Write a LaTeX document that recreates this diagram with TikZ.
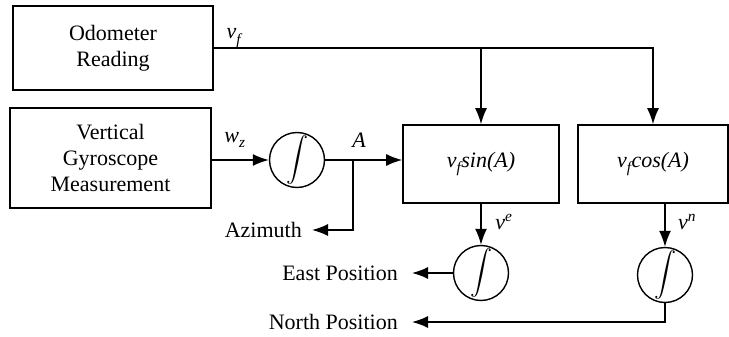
\documentclass[tikz,border=0pt]{standalone}
\usepackage{unicode-math}
\setmainfont{Liberation Serif}
\usepackage{tikz}
\usetikzlibrary{arrows.meta}

\begin{document}
\begin{tikzpicture}[x=1pt, y=-1pt,
    font=\fontsize{22}{26}\selectfont,
    block/.style={draw, line width=1.6pt, minimum width=#1, align=center, inner sep=0pt},
    integ/.style={draw, circle, line width=1.4pt, minimum size=55pt, inner sep=0pt},
    lbl/.style={inner sep=0pt, font=\fontsize{22}{26}\selectfont\itshape},
    arrow/.style={-{Latex[length=16pt, width=12pt]}, line width=1.5pt}
]
    \useasboundingbox (0,0) rectangle (729,337);

    \node[block=200pt, minimum height=84pt] (odo) at (113,48) {Odometer\\Reading};
    \node[block=201pt, minimum height=100pt] (gyro) at (110.5,158) {Vertical\\Gyroscope\\Measurement};
    \node[integ] (intA) at (297,160) {$\displaystyle\int$};
    \node[block=156pt, minimum height=78pt, font=\fontsize{22}{26}\selectfont\itshape] (sinbox) at (481,164) {v\textsubscript{f}sin(A)};
    \node[block=150pt, minimum height=78pt, font=\fontsize{22}{26}\selectfont\itshape] (cosbox) at (653,164) {v\textsubscript{f}cos(A)};
    \node[integ] (intE) at (481,273) {$\displaystyle\int$};
    \node[integ] (intN) at (665,275) {$\displaystyle\int$};

    \node[anchor=east, inner sep=0pt] (azim) at (302,230) {Azimuth};
    \node[anchor=east, inner sep=0pt] (east) at (398,273) {East Position};
    \node[anchor=east, inner sep=0pt] (north) at (398,322) {North Position};

    \coordinate (br) at (353,160);

    \draw[arrow] (odo.east) -| (cosbox.north);
    \draw[arrow] (odo.east -| sinbox.north) -- (sinbox.north);
    \draw[arrow] (gyro.east |- intA.west) -- (intA.west);
    \draw[arrow] (intA.east) -- (intA.east -| sinbox.west);
    \draw[arrow] (br) |- ([xshift=10pt]azim.east);
    \draw[arrow] (sinbox.south) -- (intE.north);
    \draw[arrow] (intE.west) -- ([xshift=14pt]east.east);
    \draw[arrow] (intN.north |- cosbox.south) -- (intN.north);
    \draw[arrow] (intN.south) |- ([xshift=14pt]north.east);

    \node[lbl] (vf) at (234,38) {v\textsubscript{f}};
    \node[lbl] (wz) at (235,140) {w\textsubscript{z}};
    \node[lbl] (aa) at (359,140) {A};
    \node[lbl] (ve) at (504,222) {v\textsuperscript{e}};
    \node[lbl] (vn) at (687,222) {v\textsuperscript{n}};
\end{tikzpicture}
\end{document}
